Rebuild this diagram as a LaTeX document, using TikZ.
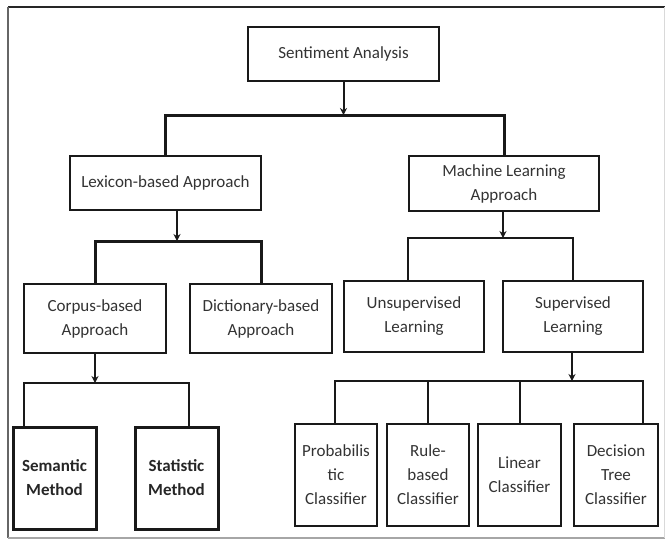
\documentclass[tikz,border=0pt]{standalone}
\usepackage{fontspec}
\setmainfont{Carlito}
\usepackage{tikz}
\usetikzlibrary{arrows.meta}
\def\diafont{\fontsize{17}{24}\selectfont}
\def\boxnode{\node[draw=black!90, line width=2pt, align=center, inner sep=0pt, text=black!80, font=\diafont]}
\def\heavynode{\node[draw=black!90, line width=3pt, align=center, inner sep=0pt, text=black!85, font={\diafont\bfseries}]}
\def\drawbar{\draw[color=black!90, line width=2pt]}
\def\drawwide{\draw[color=black!90, line width=3pt]}
\def\drawarr{\draw[color=black!90, line width=2pt, -{Stealth[length=7pt,width=7pt]}]}

\begin{document}
\begin{tikzpicture}[x=1pt,y=-1pt]
\useasboundingbox (0,0) rectangle (665,542);
\draw[black!85, line width=2pt] (8,7) -- (665,7);
\draw[black!60, line width=1.5pt] (8,7) -- (8,538);
\draw[black!35, line width=1.5pt] (8,538) -- (665,538);
\draw[black!15, line width=1pt] (664,7) -- (664,538);

\boxnode[minimum width=191, minimum height=54] (sa) at (343.5,54) {Sentiment Analysis};
\boxnode[minimum width=191, minimum height=54] (lex) at (165.5,183) {Lexicon-based Approach};
\boxnode[minimum width=190, minimum height=55] (ml) at (504,183.5) {Machine Learning\\Approach};
\boxnode[minimum width=142, minimum height=69] (corpus) at (95,318.5) {Corpus-based\\Approach};
\boxnode[minimum width=142, minimum height=69] (dict) at (261,318.5) {Dictionary-based\\Approach};
\boxnode[minimum width=140, minimum height=71, line width=2.6pt] (unsup) at (414,316.5) {Unsupervised\\Learning};
\boxnode[minimum width=140, minimum height=71] (sup) at (573,316.5) {Supervised\\Learning};
\heavynode[minimum width=83, minimum height=102] (sem) at (54.5,478) {Semantic\\Method};
\heavynode[minimum width=83, minimum height=102] (stat) at (176.5,478) {Statistic\\Method};
\boxnode[minimum width=82, minimum height=102] (prob) at (336,475) {Probabilis\\tic\\Classifier};
\boxnode[minimum width=82, minimum height=102] (rule) at (428,475) {Rule-\\based\\Classifier};
\boxnode[minimum width=83, minimum height=102] (lin) at (519.5,475) {Linear\\Classifier};
\boxnode[minimum width=84, minimum height=102] (dec) at (616,475) {Decision\\Tree\\Classifier};

\coordinate (j1) at (343.5,115);
\coordinate (j2) at (177,241);
\coordinate (j3) at (503,238);
\coordinate (j4) at (95,383);
\coordinate (j5) at (572,381);

\drawwide (lex.north) |- (ml.north |- j1) -- (ml.north);
\drawarr (sa) -- (j1);
\drawwide (corpus.north) |- (dict.north |- j2) -- (dict.north);
\drawarr (lex.south -| j2) -- (j2);
\drawbar ([xshift=-6pt]unsup.north) |- (sup.north |- j3) -- (sup.north);
\drawarr (ml.south -| j3) -- (j3);
\drawbar ([xshift=-30.5pt]sem.north) |- ([xshift=12.5pt]stat.north |- j4) -- ([xshift=12.5pt]stat.north);
\drawarr (corpus.south) -- (j4);
\drawbar ([xshift=-1pt]prob.north) |- ([xshift=27pt]dec.north |- j5) -- ([xshift=27pt]dec.north);
\drawbar (rule.north) -- (rule.north |- j5);
\drawbar (lin.north) -- (lin.north |- j5);
\drawarr (sup.south -| j5) -- (j5);
\end{tikzpicture}
\end{document}
